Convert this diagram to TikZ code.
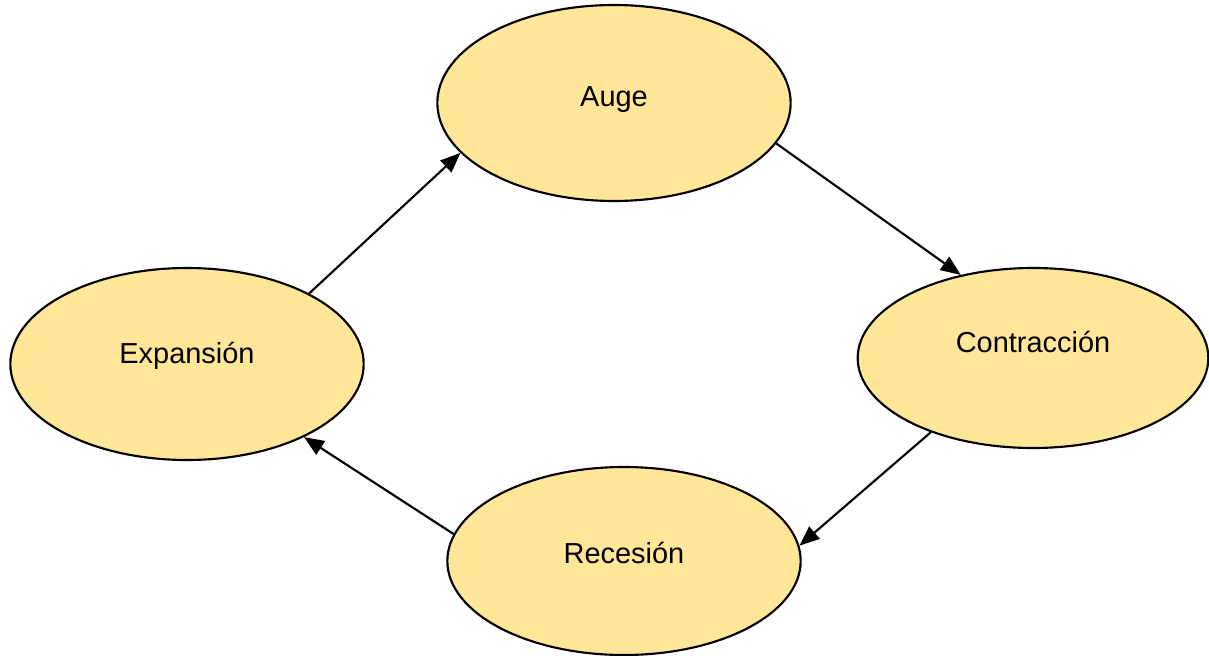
\documentclass[tikz,border=0pt]{standalone}
\usepackage{fontspec}
\setmainfont{Liberation Sans}
\usetikzlibrary{shapes.geometric,arrows.meta}

\definecolor{phasefill}{RGB}{255,230,153}

\begin{document}
\begin{tikzpicture}[x=0.75pt,y=-0.75pt,
  phase/.style={ellipse,draw=black,line width=1.6pt,fill=phasefill,
    inner sep=0pt,minimum width=265pt,text height=15.6pt,
    font=\fontsize{21.7}{26}\selectfont},
  cycle/.style={line width=1.6pt,-{Triangle[length=15pt,width=12pt]}}]
  \useasboundingbox (0,0) rectangle (1209,656);

  \node[phase,minimum height=147pt,text depth=10.5pt] (auge) at (614,103) {Auge};
  \node[phase,minimum height=144pt,text depth=16.5pt] (expansion) at (187,364) {Expansión};
  \node[phase,minimum height=135pt,minimum width=263pt,text depth=24pt] (contraccion) at (1033,358) {Contracción};
  \node[phase,minimum height=141pt,text depth=12pt] (recesion) at (624,561) {Recesión};

  % the cycle, clockwise
  \draw[cycle] (expansion.30.5) -- (auge.198.2);
  \draw[cycle] (auge.346.8) -- (contraccion.131.5);
  \draw[cycle] (contraccion.216.6) -- (recesion.5.1);
  \draw[cycle] (recesion.171) -- (expansion.328.7);
\end{tikzpicture}
\end{document}
